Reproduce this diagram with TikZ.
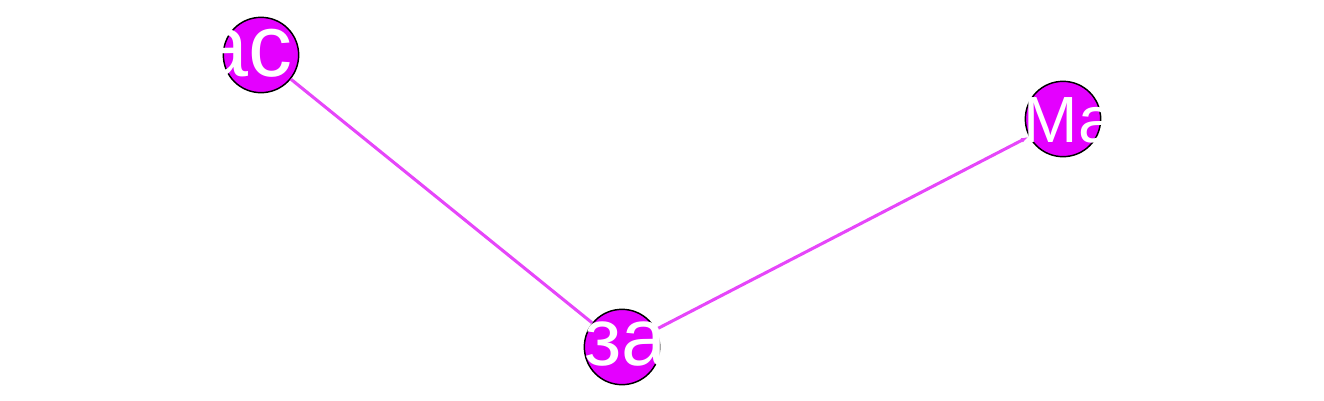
\documentclass[tikz,border=0pt]{standalone}
\usepackage{fontspec}
\setmainfont{Liberation Sans}
\usetikzlibrary{arrows.meta}
\definecolor{nodefill}{RGB}{228,0,255}
\definecolor{edgecol}{RGB}{230,70,250}
\tikzset{
  vertex/.style={circle, draw=black, line width=1.1pt, fill=nodefill, minimum size=56.5pt, inner sep=0pt},
  edge/.style={draw=edgecol, line width=2.3pt},
  lbl/.style={text=white, inner sep=0pt, anchor=base west}
}
\begin{document}
\begin{tikzpicture}[x=0.75pt, y=-0.75pt]
\useasboundingbox (0,0) rectangle (1324,400);
\node[vertex] (n1) at (261,55) {};
\node[vertex] (n2) at (1063,119) {};
\node[vertex] (n3) at (622,347) {};
\draw[edge] (n1) -- (n3);
\draw[edge, -{Latex[length=6pt,width=3.5pt]}] (n3) -- (n2);
\node[lbl, font=\fontsize{66}{66}\selectfont] (t1) at (199,76) {ас};
\node[lbl, font=\fontsize{49}{49}\selectfont] (t2) at (1023,142) {Ма};
\node[lbl, font=\fontsize{61}{61}\selectfont] (t3) at (584,365) {за};
\end{tikzpicture}
\end{document}
